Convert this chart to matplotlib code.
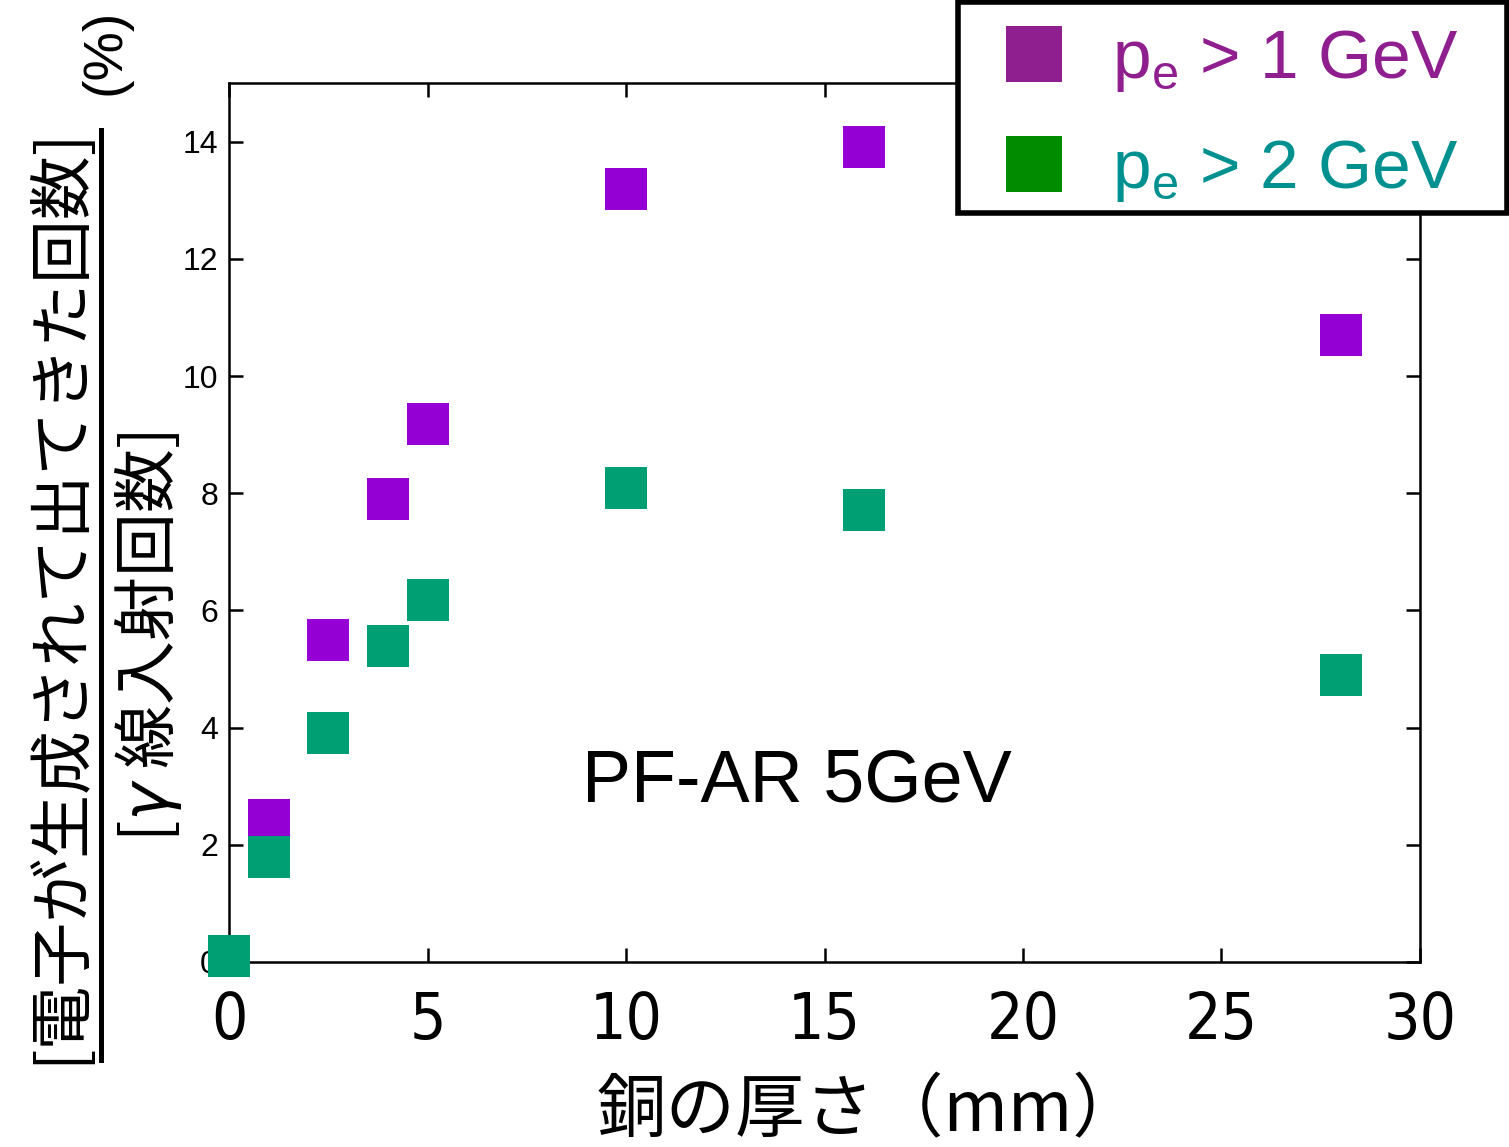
import numpy as np
import matplotlib
matplotlib.use('Agg')
import matplotlib.pyplot as plt
from matplotlib.lines import Line2D
from matplotlib.patches import Rectangle

plt.rcParams['font.family'] = ['Liberation Sans', 'Noto Sans CJK JP', 'DejaVu Sans']
plt.rcParams['mathtext.fontset'] = 'custom'
plt.rcParams['mathtext.rm'] = 'Liberation Sans'
plt.rcParams['mathtext.it'] = 'DejaVu Sans:italic'

# thickness of copper (mm)
thick_1gev = [1, 2.5, 4, 5, 10, 16, 28]
ratio_1gev = [2.42, 5.5, 7.9, 9.18, 13.2, 13.9, 10.7]
thick_2gev = [0, 1, 2.5, 4, 5, 10, 16, 28]
ratio_2gev = [0.1, 1.79, 3.9, 5.4, 6.18, 8.09, 7.72, 4.89]

xticks = [0, 5, 10, 15, 20, 25, 30]
yticks = [0, 2, 4, 6, 8, 10, 12, 14]

fig = plt.figure(figsize=(15.09, 11.47), dpi=100)
ax = fig.add_axes([0.1518, 0.1613, 0.7892, 0.7663])

ax.plot(thick_1gev, ratio_1gev, 's', color='#9400d3', ms=30, mew=0, clip_on=False, zorder=3)
ax.plot(thick_2gev, ratio_2gev, 's', color='#009e73', ms=30, mew=0, clip_on=False, zorder=3)

ax.set_xlim(0, 30)
ax.set_ylim(0, 15)
ax.set_xticks(xticks)
ax.set_yticks(yticks)
ax.tick_params(direction='in', length=10, width=1.8, top=True, right=True)
ax.tick_params(axis='x', labelsize=46, pad=20)
ax.tick_params(axis='y', labelsize=23, pad=8)
for lab in ax.get_xticklabels():
    lab.set_family('DejaVu Sans')
    lab.set_stretch('condensed')
for sp in ax.spines.values():
    sp.set_linewidth(1.8)

# x label
fig.text(0.576, 0.031, '銅の厚さ（mm）', fontsize=50, family=['Noto Sans CJK JP'],
         ha='center', va='center')

ax.text(0.477, 0.205, 'PF-AR 5GeV', transform=ax.transAxes, fontsize=53,
        ha='center', va='center')

# y label as a fraction
fig.text(0.040, 0.481, '[電子が生成されて出てきた回数]', rotation=90, fontsize=46,
         family=['Noto Sans CJK JP'], ha='center', va='center')
fig.add_artist(Line2D([0.0669, 0.0669], [0.076, 0.887], color='black', lw=3.6,
                      transform=fig.transFigure))
fig.text(0.0696, 0.955, '(%)', rotation=90, fontsize=40, ha='center', va='center')
fig.text(0.098, 0.4446, '[$\\gamma$ 線入射回数]', rotation=90, fontsize=46,
         family=['Noto Sans CJK JP'], ha='center', va='center')

# legend box
box = Rectangle((958 / 1509, 1 - 213 / 1147), 549 / 1509, 211 / 1147,
                transform=fig.transFigure, facecolor='white', edgecolor='black',
                lw=4, zorder=4)
fig.add_artist(box)
handles = [Line2D([], [], ls='none', marker='s', ms=40, mew=0, color='#8f1f8f'),
           Line2D([], [], ls='none', marker='s', ms=40, mew=0, color='#008b00')]
leg = fig.legend(handles, ['p$_{\\rm e}$ > 1 GeV', 'p$_{\\rm e}$ > 2 GeV'],
                 loc='upper left', bbox_to_anchor=(958 / 1509, 1 - 7 / 1147), fontsize=50,
                 frameon=False, handlelength=1.6, handletextpad=0.32,
                 labelspacing=0.64, borderpad=0.3, borderaxespad=0)
leg.set_zorder(5)
leg.get_texts()[0].set_color('#8f1f8f')
leg.get_texts()[1].set_color('#009090')

fig.savefig('out.png', dpi=100)
